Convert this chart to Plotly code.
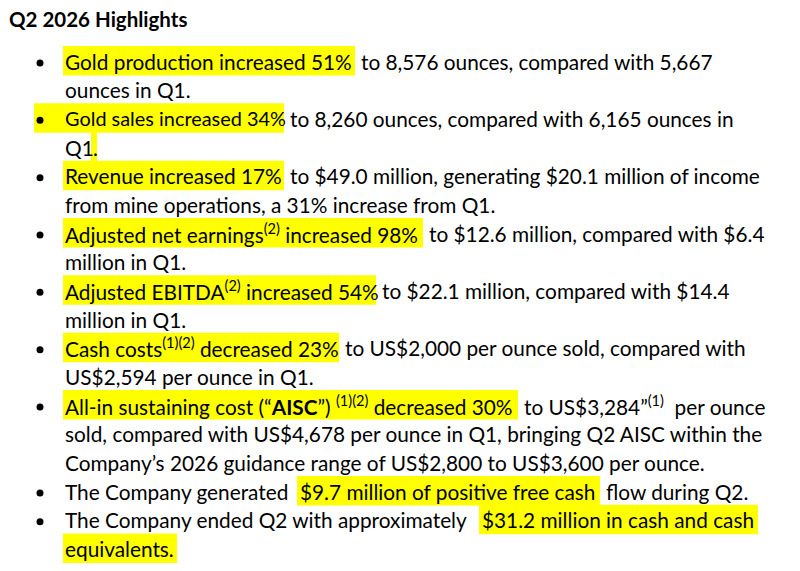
import plotly.graph_objects as go

# ================= content =================
HEADING = "Q2 2026 Highlights"

# one entry per printed line: (segment text, highlighted?)
LINES = [
    [("Gold production increased 51%", True), ("to 8,576 ounces, compared with 5,667", False)],
    [("ounces in Q1.", False)],
    [("Gold sales increased 34%", True), ("to 8,260 ounces, compared with 6,165 ounces in", False)],
    [("Q1", False), (".", True)],
    [("Revenue increased 17%", True), ("to $49.0 million, generating $20.1 million of income", False)],
    [("from mine operations, a 31% increase from Q1.", False)],
    [("Adjusted net earnings<sup>(2)</sup> increased 98%", True), ("to $12.6 million, compared with $6.4", False)],
    [("million in Q1.", False)],
    [("Adjusted EBITDA<sup>(2)</sup> increased 54%", True), ("to $22.1 million, compared with $14.4", False)],
    [("million in Q1.", False)],
    [("Cash costs<sup>(1)(2)</sup> decreased 23%", True), ("to US$2,000 per ounce sold, compared with", False)],
    [("US$2,594 per ounce in Q1.", False)],
    [("All-in sustaining cost (“<b>AISC</b>”) <sup>(1)(2)</sup> decreased 30%", True),
     ("to US$3,284”<sup>(1)</sup>\u00a0 per ounce", False)],
    [("sold, compared with US$4,678 per ounce in Q1, bringing Q2 AISC within the", False)],
    [("Company’s 2026 guidance range of US$2,800 to US$3,600 per ounce.", False)],
    [("The Company generated", False), ("$9.7 million of positive free cash", True), ("flow during Q2.", False)],
    [("The Company ended Q2 with approximately", False), ("$31.2 million in cash and cash", True)],
    [("equivalents.", True)],
]

# lines that start a new bullet
BULLET_LINES = [0, 2, 4, 6, 8, 10, 12, 15, 16]

# ================= layout (pixels) =================
W, H = 800, 571
PAGE_OFFSET = 8          # default body margin of the html page
LINE_TOP = 61
LINE_STEP = 28.67
BULLET_X = 40

# left edge of every segment
SEG_X = [[64, 360], [64], [64, 289], [64, 92], [64, 289], [64], [64, 428], [64],
         [64, 381], [64], [64, 344], [64], [64, 523], [64], [64], [64, 299, 605],
         [64, 481], [64]]

# yellow marker boxes per line (x0, x1)
HL_SPAN = [[(63, 355)], [], [(34, 284)], [(91, 97)], [(63, 284)], [], [(63, 423)], [],
           [(63, 376)], [], [(63, 339)], [], [(63, 518)], [], [], [(297, 600)],
           [(479, 758)], [(63, 177)]]

FONT = "Lato, 'Open Sans', sans-serif"
BODY_SIZE = 20.8
HEAD_SIZE = 20.5
# Lato runs a little wider than the original face on this one phrase
SIZE_FIX = {(2, 0): 19.9}
YELLOW = "#FFFF00"


def line_y(i):
    return LINE_TOP + LINE_STEP * i


fig = go.Figure()

# bullets
fig.add_trace(go.Scatter(
    x=[BULLET_X] * len(BULLET_LINES),
    y=[line_y(i) + 2 for i in BULLET_LINES],
    mode="markers",
    marker=dict(size=7, color="black", symbol="circle"),
    hoverinfo="skip",
    showlegend=False,
))

shapes = []
annotations = []

# heading
annotations.append(dict(
    x=8, y=18.5, xref="x", yref="y", text="<b>" + HEADING + "</b>",
    showarrow=False, xanchor="left", yanchor="middle",
    font=dict(family=FONT, size=HEAD_SIZE, color="black"), borderpad=0,
))

for i, segs in enumerate(LINES):
    yc = line_y(i)
    for x0, x1 in HL_SPAN[i]:
        shapes.append(dict(
            type="rect", xref="x", yref="y", x0=x0, x1=x1, y0=yc - 15, y1=yc + 14.5,
            fillcolor=YELLOW, line=dict(width=0), layer="below",
        ))
    for j, ((txt, hl), sx) in enumerate(zip(segs, SEG_X[i])):
        annotations.append(dict(
            x=sx, y=yc, xref="x", yref="y", text=txt,
            showarrow=False, xanchor="left", yanchor="middle",
            font=dict(family=FONT, size=SIZE_FIX.get((i, j), BODY_SIZE), color="black"),
            borderpad=0,
        ))

fig.update_layout(
    width=W, height=H,
    margin=dict(l=0, r=0, t=0, b=0),
    paper_bgcolor="white", plot_bgcolor="white",
    # shift ranges so coordinates equal window pixels despite the body margin
    xaxis=dict(range=[PAGE_OFFSET, W + PAGE_OFFSET], visible=False, fixedrange=True),
    yaxis=dict(range=[H + PAGE_OFFSET, PAGE_OFFSET], visible=False, fixedrange=True),
    shapes=shapes,
    annotations=annotations,
)

fig.write_html("out.html")
